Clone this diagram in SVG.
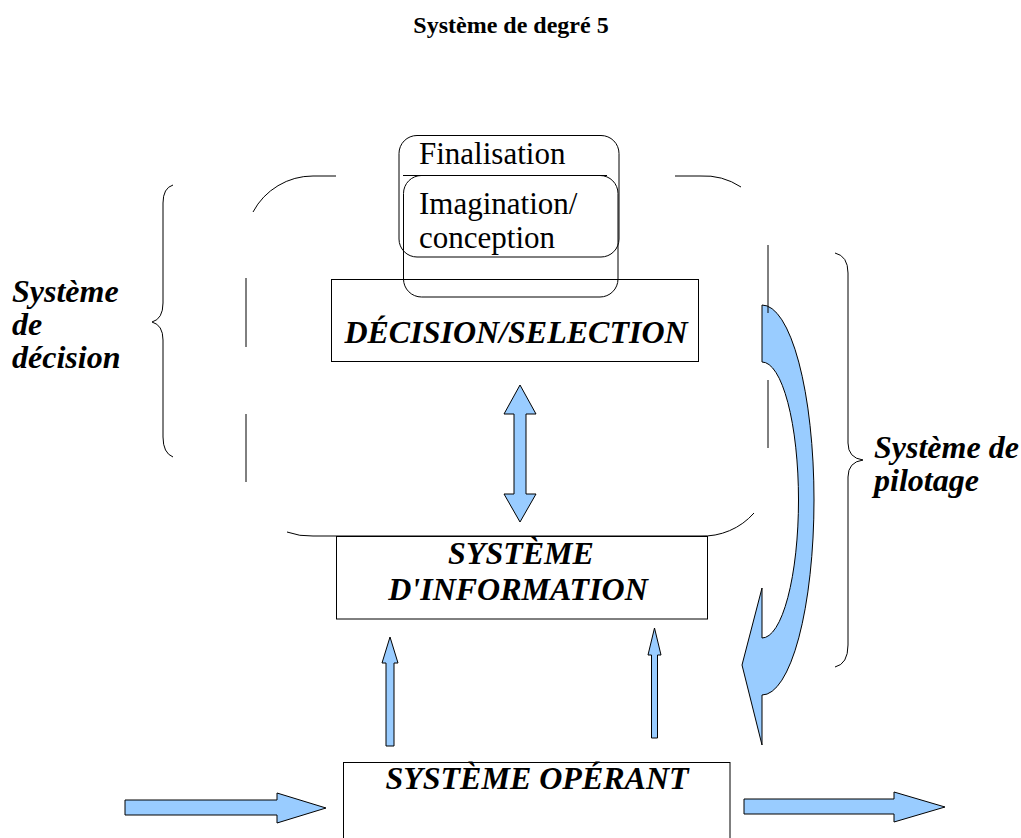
<svg xmlns="http://www.w3.org/2000/svg" width="1021" height="838" viewBox="0 0 1021 838">
<style>
.ln{fill:none;stroke:#000;stroke-width:1}
.box{fill:none;stroke:#000;stroke-width:1}
.arr{fill:#99ccff;stroke:#000;stroke-width:1;stroke-linejoin:miter}
.t{font-family:"Liberation Serif","Times New Roman",serif;fill:#000}
.bi{font-weight:bold;font-style:italic;font-size:32px}
.r{font-size:31px}
</style>
<rect width="1021" height="838" fill="#fff"/>
<g id="title"><text class="t" x="511" y="33" font-size="24" font-weight="bold" text-anchor="middle">Système de degré 5</text></g>

<g id="connectors">
  <path id="pilotage-arrow" class="arr" d="M762,305 A52,195 0 0 1 762,695 L762,745 L742,665 L762,588 L762,638 A36.5,138 0 0 0 762,362 Z"/>
  <path id="double-arrow" class="arr" d="M520,385 L536,414 L526,414 L526,494 L536,494 L520,522 L504,494 L514,494 L514,414 L504,414 Z"/>
  <path id="up-left" class="arr" d="M390,637 L398,663 L394,663 L394,746 L386,746 L386,663 L382,663 Z"/>
  <path id="up-right" class="arr" d="M654.5,628 L661,655 L657.5,655 L657.5,738 L651.5,738 L651.5,655 L648,655 Z"/>
  <path id="in-arrow" class="arr" d="M125,800 L277,800 L277,793 L326,808 L277,823 L277,815 L125,815 Z"/>
  <path id="out-arrow" class="arr" d="M744,799 L894,799 L894,792 L945,807 L894,822 L894,814 L744,814 Z"/>
</g>

<g id="decision-frame" class="ln">
  <path d="M253,212 A68,68 0 0 1 313,176 L336,176"/>
  <path d="M675,176 L700,176 A68,68 0 0 1 741,187"/>
  <path d="M246,278 L246,347 M246,414 L246,482"/>
  <path d="M768,245 L768,313 M768,380 L768,448"/>
  <path d="M287,532 A68,68 0 0 0 313,536 L700,536 A68,68 0 0 0 754,513"/>
</g>

<g id="finalisation">
  <rect class="box" x="399" y="135.5" width="220" height="121.5" rx="18"/>
  <text class="t r" x="419" y="164">Finalisation</text>
</g>
<g id="imagination">
  <line class="ln" x1="403" y1="175.5" x2="607" y2="175.5"/>
  <rect class="box" x="403.5" y="175.5" width="214.5" height="121.5" rx="18"/>
  <text class="t r" x="419" y="214">Imagination/</text>
  <text class="t r" x="419" y="248">conception</text>
</g>
<g id="decision">
  <rect class="box" x="331.5" y="279.5" width="367" height="82"/>
  <text class="t bi" x="516" y="343" text-anchor="middle">DÉCISION/SELECTION</text>
</g>
<g id="information">
  <rect class="box" x="336.5" y="536.5" width="371" height="82.5"/>
  <text class="t bi" x="521" y="564" text-anchor="middle">SYSTÈME</text>
  <text class="t bi" x="518" y="600" text-anchor="middle">D'INFORMATION</text>
</g>
<g id="operant">
  <rect class="box" x="343.5" y="762.5" width="386.5" height="100"/>
  <text class="t bi" x="537" y="789" text-anchor="middle">SYSTÈME OPÉRANT</text>
</g>
<g id="systeme-decision">
  <path class="ln" d="M173,185 Q163,188 163,203 L163,303 Q163,319 152,322 Q163,325 163,340 L163,437 Q163,453 173,457"/>
  <text class="t bi" x="12" y="302" font-size="30">Système</text>
  <text class="t bi" x="12" y="335" font-size="30">de</text>
  <text class="t bi" x="12" y="368" font-size="30">décision</text>
</g>
<g id="systeme-pilotage">
  <path class="ln" d="M835,253 Q848,256 848,273 L848,443 Q848,458 863,460 Q848,462 848,477 L848,645 Q848,664 835,667"/>
  <text class="t bi" x="874" y="458" font-size="30">Système de</text>
  <text class="t bi" x="874" y="491" font-size="30">pilotage</text>
</g>
</svg>
